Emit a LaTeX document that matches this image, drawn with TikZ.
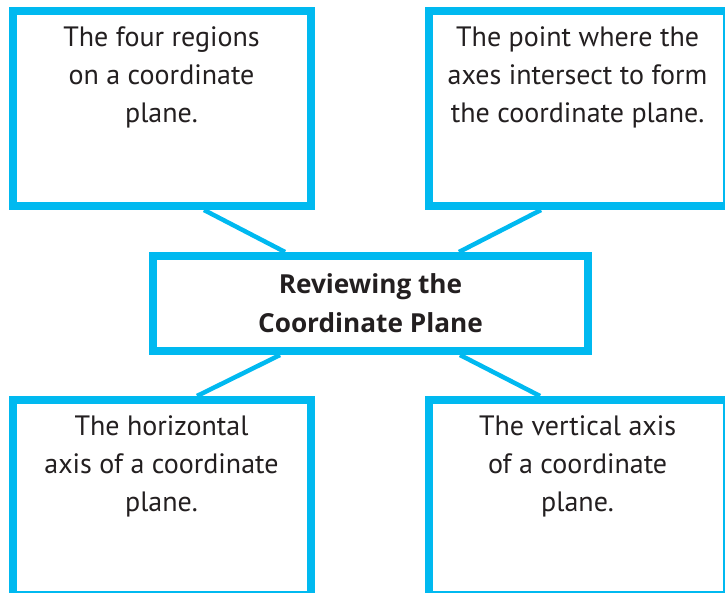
\documentclass[tikz,border=0pt]{standalone}
\usepackage{fontspec}
\setmainfont{PT Sans}
\newfontfamily\titlefont{Open Sans}
\usetikzlibrary{positioning}
\definecolor{boxblue}{RGB}{0,185,240}
\definecolor{inkgray}{RGB}{35,31,32}
\newcommand{\cardtext}[1]{\parbox[c][195pt][t]{298pt}{\fontsize{28}{38}\selectfont\centering\vspace*{9pt}\strut #1\par}}

\begin{document}
\begin{tikzpicture}[x=1pt,y=1pt,
	termbox/.style={draw=boxblue,line width=8pt,fill=white,inner sep=0pt,text=inkgray},
	mainbox/.style={draw=boxblue,line width=8pt,fill=white,inner sep=0pt,text=inkgray,
		minimum width=435pt,minimum height=95pt,align=center,
		font=\titlefont\fontsize{26.2}{39}\selectfont\bfseries},
	link/.style={draw=boxblue,line width=4.5pt}]
	\clip (0,0) rectangle (725,593);
	%% the middle box
	\node[mainbox] (review) at (370.5,289.5) {Reviewing the\\Coordinate Plane};
	%% the four cards
	\node[termbox] (quadrants) at (161.5,484.5) {\cardtext{The four regions\\on a coordinate\\plane.}};
	\node[termbox] (origin) at (577.6,484.5) {\cardtext{The point where the\\axes intersect to form\\the coordinate plane.}};
	\node[termbox] (xaxis) at (161.5,95.5) {\cardtext{The horizontal\\axis of a coordinate\\plane.}};
	\node[termbox] (yaxis) at (577.6,95.5) {\cardtext{The vertical axis\\of a coordinate\\plane.}};
	% the links
	\draw[link] ([xshift=42.5pt]quadrants.south) -- ([xshift=-85.5pt]review.north);
	\draw[link] ([xshift=-36.6pt]origin.south) -- ([xshift=88.5pt]review.north);
	\draw[link] ([xshift=-90.5pt]review.south) -- ([xshift=35.5pt]xaxis.north);
	\draw[link] ([xshift=89.5pt]review.south) -- ([xshift=-37.6pt]yaxis.north);
\end{tikzpicture}
\end{document}
